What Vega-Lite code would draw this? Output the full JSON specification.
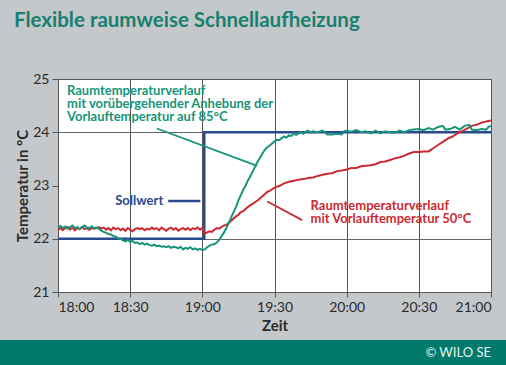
{
  "$schema": "https://vega.github.io/schema/vega-lite/v6.json",
  "width": 433,
  "height": 213,
  "autosize": {"type": "none"},
  "padding": {"left": 58, "top": 79, "right": 15, "bottom": 73},
  "background": "#c4c8cb",
  "title": {
    "text": "Flexible raumweise Schnellaufheizung",
    "anchor": "start",
    "frame": "group",
    "dx": -44,
    "offset": 25,
    "baseline": "alphabetic",
    "font": "Lato",
    "fontSize": 20.5,
    "fontWeight": "bold",
    "color": "#17806f"
  },
  "config": {
    "view": {"fill": "white", "stroke": "#555555", "strokeWidth": 1},
    "axis": {
      "labelFont": "Lato",
      "labelFontSize": 14,
      "labelColor": "#2b2b2b",
      "titleFont": "Lato",
      "titleFontSize": 15,
      "titleFontWeight": "bold",
      "titleColor": "#2b2b2b",
      "domainColor": "#555555",
      "tickColor": "#555555"
    },
    "text": {"font": "Lato"}
  },
  "datasets": {
    "green": [
      {"zeit":0,"temp":22.22},{"zeit":1,"temp":22.24},{"zeit":2,"temp":22.2},{"zeit":3,"temp":22.23},{"zeit":4,"temp":22.19},{"zeit":5,"temp":22.22},{"zeit":6,"temp":22.25},{"zeit":7,"temp":22.2},{"zeit":8,"temp":22.22},{"zeit":9,"temp":22.18},{"zeit":10,"temp":22.22},{"zeit":11,"temp":22.25},{"zeit":12,"temp":22.21},{"zeit":13,"temp":22.2},{"zeit":14,"temp":22.23},{"zeit":15,"temp":22.2},{"zeit":16,"temp":22.21},{"zeit":17,"temp":22.19},{"zeit":18,"temp":22.15},{"zeit":19,"temp":22.13},{"zeit":20,"temp":22.11},{"zeit":21,"temp":22.09},{"zeit":22,"temp":22.08},{"zeit":23,"temp":22.05},{"zeit":24,"temp":22.04},{"zeit":25,"temp":22.01},{"zeit":26,"temp":22.0},{"zeit":27,"temp":21.97},{"zeit":28,"temp":21.95},{"zeit":29,"temp":21.98},{"zeit":30,"temp":21.94},{"zeit":31,"temp":21.96},{"zeit":32,"temp":21.92},{"zeit":33,"temp":21.93},{"zeit":34,"temp":21.9},{"zeit":35,"temp":21.92},{"zeit":36,"temp":21.89},{"zeit":37,"temp":21.91},{"zeit":38,"temp":21.88},{"zeit":39,"temp":21.87},{"zeit":40,"temp":21.89},{"zeit":41,"temp":21.86},{"zeit":42,"temp":21.87},{"zeit":43,"temp":21.85},{"zeit":44,"temp":21.86},{"zeit":45,"temp":21.84},{"zeit":46,"temp":21.86},{"zeit":47,"temp":21.83},{"zeit":48,"temp":21.85},{"zeit":49,"temp":21.84},{"zeit":50,"temp":21.82},{"zeit":51,"temp":21.85},{"zeit":52,"temp":21.8},{"zeit":53,"temp":21.83},{"zeit":54,"temp":21.81},{"zeit":55,"temp":21.84},{"zeit":56,"temp":21.8},{"zeit":57,"temp":21.82},{"zeit":58,"temp":21.79},{"zeit":59,"temp":21.81},{"zeit":60,"temp":21.79},{"zeit":61,"temp":21.8},{"zeit":62,"temp":21.84},{"zeit":63,"temp":21.87},{"zeit":64,"temp":21.89},{"zeit":65,"temp":21.9},{"zeit":66,"temp":21.93},{"zeit":67,"temp":21.98},{"zeit":68,"temp":22.05},{"zeit":69,"temp":22.12},{"zeit":70,"temp":22.2},{"zeit":71,"temp":22.3},{"zeit":72,"temp":22.4},{"zeit":73,"temp":22.5},{"zeit":74,"temp":22.6},{"zeit":75,"temp":22.72},{"zeit":76,"temp":22.82},{"zeit":77,"temp":22.92},{"zeit":78,"temp":23.0},{"zeit":79,"temp":23.1},{"zeit":80,"temp":23.18},{"zeit":81,"temp":23.27},{"zeit":82,"temp":23.36},{"zeit":83,"temp":23.45},{"zeit":84,"temp":23.52},{"zeit":85,"temp":23.6},{"zeit":86,"temp":23.67},{"zeit":87,"temp":23.72},{"zeit":88,"temp":23.75},{"zeit":89,"temp":23.79},{"zeit":90,"temp":23.83},{"zeit":91,"temp":23.86},{"zeit":92,"temp":23.85},{"zeit":93,"temp":23.89},{"zeit":94,"temp":23.92},{"zeit":95,"temp":23.9},{"zeit":96,"temp":23.94},{"zeit":97,"temp":23.93},{"zeit":98,"temp":23.97},{"zeit":99,"temp":23.95},{"zeit":100,"temp":23.98},{"zeit":101,"temp":24.0},{"zeit":102,"temp":23.97},{"zeit":103,"temp":24.01},{"zeit":104,"temp":24.03},{"zeit":105,"temp":24.0},{"zeit":106,"temp":24.02},{"zeit":108,"temp":24.0},{"zeit":110,"temp":24.03},{"zeit":112,"temp":23.96},{"zeit":114,"temp":23.96},{"zeit":116,"temp":23.97},{"zeit":118,"temp":23.96},{"zeit":119,"temp":24.02},{"zeit":120,"temp":24.03},{"zeit":122,"temp":24.01},{"zeit":124,"temp":24.04},{"zeit":126,"temp":24.0},{"zeit":128,"temp":24.02},{"zeit":130,"temp":23.98},{"zeit":132,"temp":24.03},{"zeit":134,"temp":23.98},{"zeit":136,"temp":24.02},{"zeit":138,"temp":24.0},{"zeit":140,"temp":23.99},{"zeit":142,"temp":24.03},{"zeit":144,"temp":24.0},{"zeit":146,"temp":24.04},{"zeit":148,"temp":24.05},{"zeit":150,"temp":24.06},{"zeit":152,"temp":24.04},{"zeit":154,"temp":24.08},{"zeit":156,"temp":24.05},{"zeit":158,"temp":24.1},{"zeit":160,"temp":24.12},{"zeit":161,"temp":24.05},{"zeit":163,"temp":24.06},{"zeit":165,"temp":24.1},{"zeit":167,"temp":24.05},{"zeit":169,"temp":24.12},{"zeit":171,"temp":24.14},{"zeit":172,"temp":24.05},{"zeit":174,"temp":24.04},{"zeit":176,"temp":24.06},{"zeit":178,"temp":24.05},{"zeit":179,"temp":24.1},{"zeit":180,"temp":24.12}
    ],
    "red": [
      {"zeit":0,"temp":22.17},{"zeit":1,"temp":22.2},{"zeit":2,"temp":22.16},{"zeit":3,"temp":22.2},{"zeit":4,"temp":22.22},{"zeit":5,"temp":22.17},{"zeit":6,"temp":22.21},{"zeit":7,"temp":22.16},{"zeit":8,"temp":22.2},{"zeit":9,"temp":22.18},{"zeit":10,"temp":22.22},{"zeit":11,"temp":22.18},{"zeit":12,"temp":22.2},{"zeit":13,"temp":22.17},{"zeit":14,"temp":22.2},{"zeit":15,"temp":22.19},{"zeit":16,"temp":22.2},{"zeit":17,"temp":22.22},{"zeit":18,"temp":22.19},{"zeit":19,"temp":22.21},{"zeit":20,"temp":22.17},{"zeit":21,"temp":22.2},{"zeit":22,"temp":22.16},{"zeit":23,"temp":22.21},{"zeit":24,"temp":22.18},{"zeit":25,"temp":22.2},{"zeit":26,"temp":22.16},{"zeit":27,"temp":22.19},{"zeit":28,"temp":22.15},{"zeit":29,"temp":22.2},{"zeit":30,"temp":22.17},{"zeit":31,"temp":22.14},{"zeit":32,"temp":22.18},{"zeit":33,"temp":22.2},{"zeit":34,"temp":22.18},{"zeit":35,"temp":22.2},{"zeit":36,"temp":22.16},{"zeit":37,"temp":22.19},{"zeit":38,"temp":22.17},{"zeit":39,"temp":22.21},{"zeit":40,"temp":22.18},{"zeit":41,"temp":22.2},{"zeit":42,"temp":22.16},{"zeit":43,"temp":22.21},{"zeit":44,"temp":22.18},{"zeit":45,"temp":22.15},{"zeit":46,"temp":22.19},{"zeit":47,"temp":22.21},{"zeit":48,"temp":22.17},{"zeit":49,"temp":22.2},{"zeit":50,"temp":22.15},{"zeit":51,"temp":22.18},{"zeit":52,"temp":22.2},{"zeit":53,"temp":22.17},{"zeit":54,"temp":22.2},{"zeit":55,"temp":22.16},{"zeit":56,"temp":22.2},{"zeit":57,"temp":22.18},{"zeit":58,"temp":22.21},{"zeit":59,"temp":22.17},{"zeit":60,"temp":22.2},{"zeit":61,"temp":22.1},{"zeit":62,"temp":22.12},{"zeit":63,"temp":22.14},{"zeit":64,"temp":22.13},{"zeit":65,"temp":22.17},{"zeit":66,"temp":22.2},{"zeit":67,"temp":22.19},{"zeit":68,"temp":22.22},{"zeit":69,"temp":22.25},{"zeit":70,"temp":22.26},{"zeit":71,"temp":22.3},{"zeit":72,"temp":22.34},{"zeit":73,"temp":22.38},{"zeit":74,"temp":22.42},{"zeit":75,"temp":22.45},{"zeit":76,"temp":22.5},{"zeit":77,"temp":22.52},{"zeit":78,"temp":22.56},{"zeit":79,"temp":22.6},{"zeit":80,"temp":22.63},{"zeit":81,"temp":22.66},{"zeit":82,"temp":22.69},{"zeit":83,"temp":22.72},{"zeit":84,"temp":22.76},{"zeit":85,"temp":22.8},{"zeit":86,"temp":22.84},{"zeit":87,"temp":22.88},{"zeit":88,"temp":22.9},{"zeit":89,"temp":22.93},{"zeit":90,"temp":22.96},{"zeit":92,"temp":22.99},{"zeit":94,"temp":23.04},{"zeit":96,"temp":23.07},{"zeit":98,"temp":23.09},{"zeit":100,"temp":23.11},{"zeit":102,"temp":23.12},{"zeit":104,"temp":23.14},{"zeit":106,"temp":23.15},{"zeit":108,"temp":23.18},{"zeit":110,"temp":23.2},{"zeit":112,"temp":23.22},{"zeit":114,"temp":23.23},{"zeit":116,"temp":23.27},{"zeit":118,"temp":23.28},{"zeit":120,"temp":23.3},{"zeit":122,"temp":23.33},{"zeit":124,"temp":23.33},{"zeit":126,"temp":23.36},{"zeit":128,"temp":23.37},{"zeit":130,"temp":23.38},{"zeit":132,"temp":23.4},{"zeit":134,"temp":23.44},{"zeit":136,"temp":23.45},{"zeit":138,"temp":23.48},{"zeit":140,"temp":23.51},{"zeit":142,"temp":23.53},{"zeit":144,"temp":23.56},{"zeit":146,"temp":23.6},{"zeit":148,"temp":23.63},{"zeit":150,"temp":23.63},{"zeit":152,"temp":23.64},{"zeit":154,"temp":23.64},{"zeit":156,"temp":23.7},{"zeit":158,"temp":23.76},{"zeit":160,"temp":23.82},{"zeit":162,"temp":23.88},{"zeit":164,"temp":23.92},{"zeit":166,"temp":23.98},{"zeit":168,"temp":24.02},{"zeit":170,"temp":24.07},{"zeit":172,"temp":24.12},{"zeit":174,"temp":24.14},{"zeit":176,"temp":24.18},{"zeit":178,"temp":24.2},{"zeit":180,"temp":24.22}
    ],
    "soll": [
      {"zeit":0,"temp":22},{"zeit":60.8,"temp":24},{"zeit":180,"temp":24}
    ],
    "labels": [
      {"zeit":3.75,"temp":24.88,"serie":"Anhebung 85°C","text":["Raumtemperaturverlauf","mit vorübergehender Anhebung der","Vorlauftemperatur auf 85°C"]},
      {"zeit":105,"temp":22.72,"serie":"Vorlauf 50°C","text":["Raumtemperaturverlauf","mit Vorlauftemperatur 50°C"]}
    ],
    "pointers": [
      {"zeit":41.1,"temp":24.07,"zeit2":82.8,"temp2":23.37,"serie":"Anhebung 85°C"},
      {"zeit":87,"temp":22.7,"zeit2":101.5,"temp2":22.35,"serie":"Vorlauf 50°C"}
    ]
  },
  "layer": [
    {
      "data": {"name": "soll"},
      "mark": {"type": "line", "interpolate": "step-after", "strokeWidth": 2.5, "color": "#2b4a8e"},
      "encoding": {
        "x": {
          "field": "zeit", "type": "quantitative",
          "scale": {"domain": [0, 180], "nice": false, "zero": false},
          "axis": {
            "title": "Zeit",
            "values": [0, 30, 60, 90, 120, 150, 180],
            "labelExpr": "(18 + floor(datum.value / 60)) + ':' + (datum.value % 60 == 0 ? '00' : '30')",
            "grid": true, "gridColor": "#555555", "gridWidth": 1,
            "tickSize": 5, "labelPadding": 3, "titlePadding": 4
          }
        },
        "y": {
          "field": "temp", "type": "quantitative",
          "scale": {"domain": [21, 25], "nice": false, "zero": false},
          "axis": {
            "title": "Temperatur in °C",
            "values": [21, 21.5, 22, 22.5, 23, 23.5, 24, 24.5, 25],
            "labelExpr": "datum.value % 1 == 0 ? format(datum.value, 'd') : ''",
            "grid": true, "gridColor": "#666666", "gridWidth": 1,
            "gridOpacity": {"condition": {"test": "datum.value == 22 || datum.value == 23.5 || datum.value == 24 || datum.value == 24.5", "value": 1}, "value": 0},
            "tickSize": {"condition": {"test": "datum.value % 1 == 0", "value": 6}, "value": 4},
            "labelPadding": 3, "titlePadding": 2
          }
        }
      }
    },
    {
      "data": {"name": "red"},
      "mark": {"type": "line", "strokeWidth": 2, "color": "#cc2a30"},
      "encoding": {
        "x": {"field": "zeit", "type": "quantitative"},
        "y": {"field": "temp", "type": "quantitative"}
      }
    },
    {
      "data": {"name": "green"},
      "mark": {"type": "line", "strokeWidth": 2, "color": "#16957a"},
      "encoding": {
        "x": {"field": "zeit", "type": "quantitative"},
        "y": {"field": "temp", "type": "quantitative"}
      }
    },
    {
      "data": {"name": "pointers"},
      "mark": {"type": "rule", "strokeWidth": 1.8},
      "encoding": {
        "x": {"field": "zeit", "type": "quantitative"},
        "y": {"field": "temp", "type": "quantitative"},
        "x2": {"field": "zeit2"},
        "y2": {"field": "temp2"},
        "color": {"field": "serie", "type": "nominal", "legend": null,
          "scale": {"domain": ["Anhebung 85°C", "Vorlauf 50°C", "Sollwert"], "range": ["#16957a", "#cc2a30", "#2b4a8e"]}}
      }
    },
    {
      "data": {"name": "labels"},
      "mark": {"type": "text", "align": "left", "baseline": "top", "fontSize": 13, "lineHeight": 12.8, "fontWeight": "bold"},
      "encoding": {
        "x": {"field": "zeit", "type": "quantitative"},
        "y": {"field": "temp", "type": "quantitative"},
        "text": {"field": "text"},
        "color": {"field": "serie", "type": "nominal", "legend": null}
      }
    },
    {
      "data": {"values": [{"zeit": 45.8, "temp": 22.71, "zeit2": 59.2, "serie": "Sollwert"}]},
      "mark": {"type": "rule", "strokeWidth": 2.5},
      "encoding": {
        "x": {"field": "zeit", "type": "quantitative"},
        "x2": {"field": "zeit2"},
        "y": {"field": "temp", "type": "quantitative"},
        "color": {"field": "serie", "type": "nominal", "legend": null}
      }
    },
    {
      "data": {"values": [{"zeit": 43.75, "temp": 22.71, "serie": "Sollwert", "text": "Sollwert"}]},
      "mark": {"type": "text", "align": "right", "baseline": "middle", "fontSize": 13, "fontWeight": "bold"},
      "encoding": {
        "x": {"field": "zeit", "type": "quantitative"},
        "y": {"field": "temp", "type": "quantitative"},
        "text": {"field": "text"},
        "color": {"field": "serie", "type": "nominal", "legend": null}
      }
    },
    {
      "data": {"values": [{"text": "© WILO SE"}]},
      "mark": {"type": "rect", "color": "#007a6d"},
      "encoding": {
        "x": {"value": -58}, "x2": {"value": 448},
        "y": {"value": 261}, "y2": {"value": 286}
      }
    },
    {
      "data": {"values": [{"text": "© WILO SE"}]},
      "mark": {"type": "text", "align": "right", "baseline": "middle", "fontSize": 13, "color": "#e6f2f0"},
      "encoding": {
        "x": {"value": 433}, "y": {"value": 273.5},
        "text": {"field": "text"}
      }
    }
  ]
}
